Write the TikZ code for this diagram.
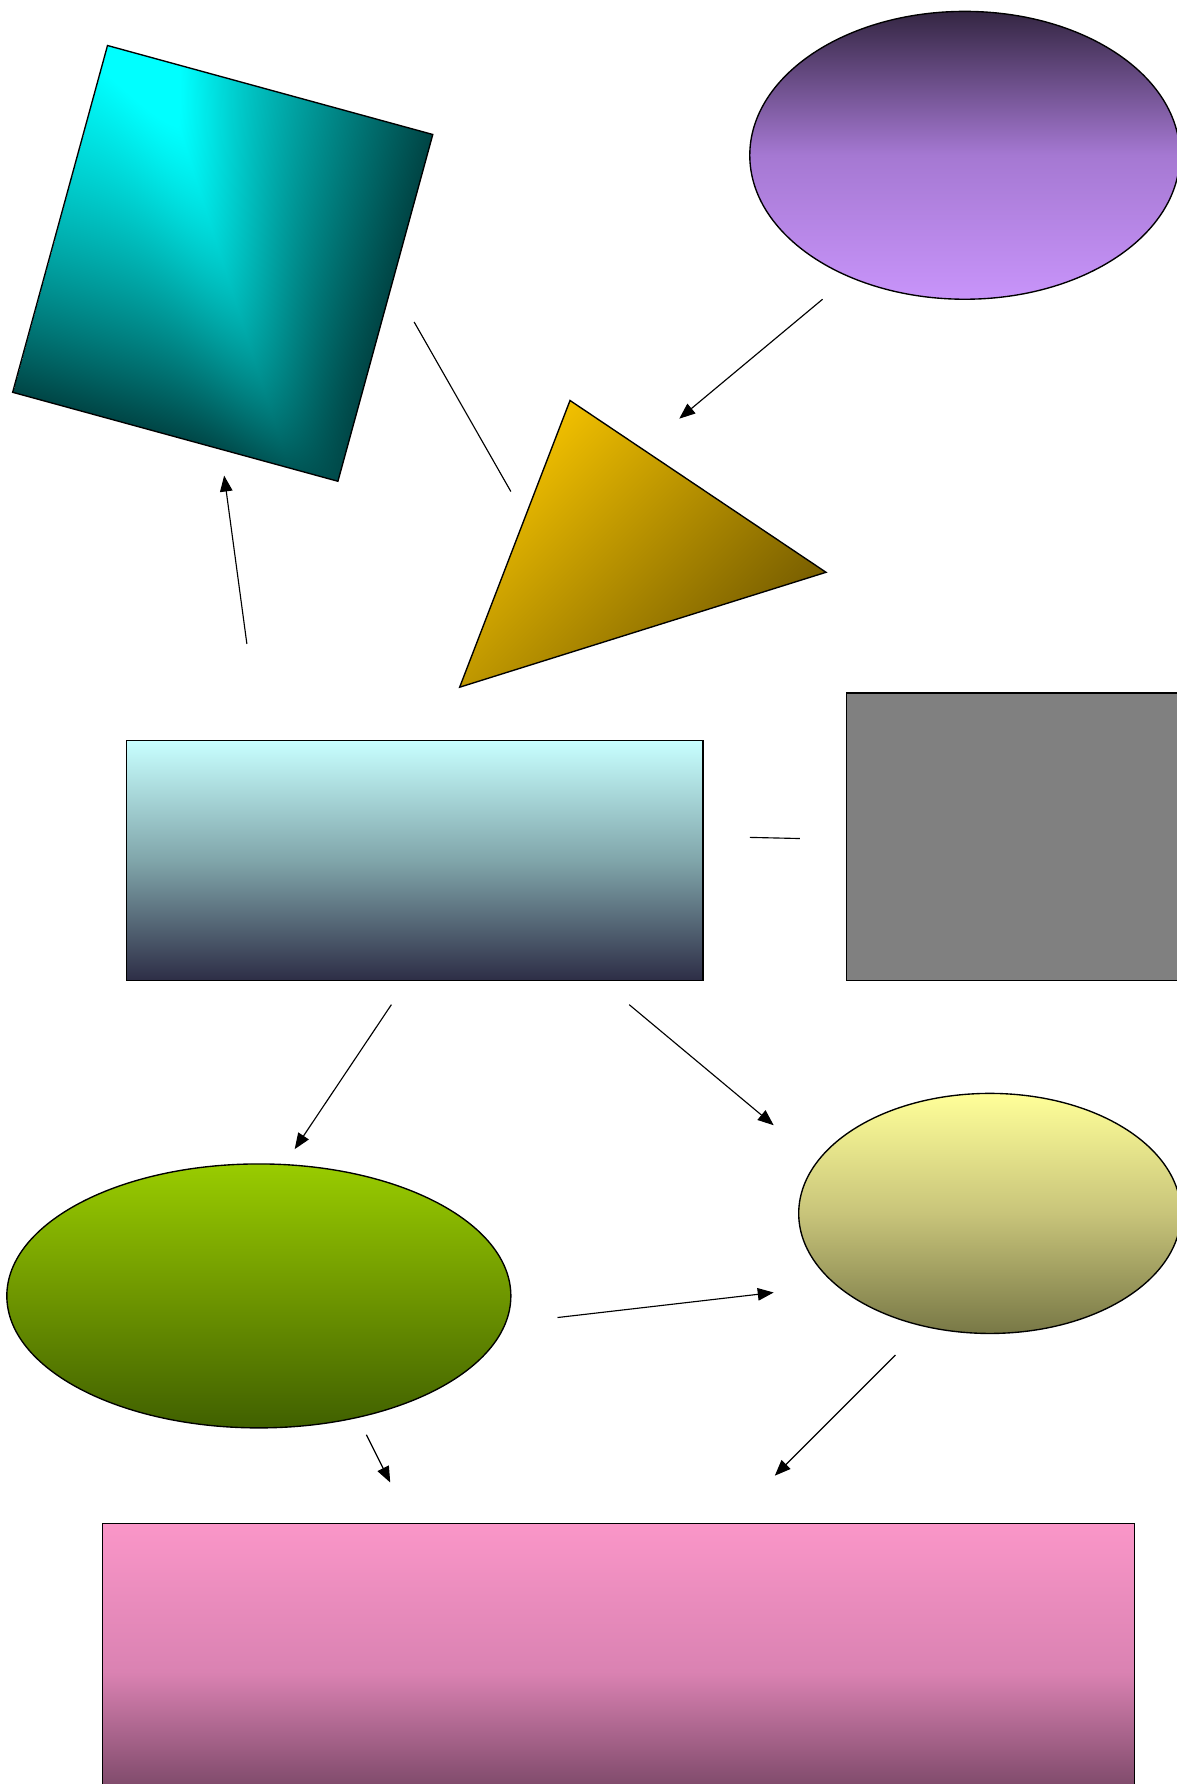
\documentclass[tikz,border=0pt]{standalone}
\usepackage{tikz}
\usetikzlibrary{arrows.meta,shapes.geometric}

\definecolor{purpleTop}{RGB}{52,38,66}
\definecolor{purpleMid}{RGB}{165,120,210}
\definecolor{purpleBot}{RGB}{200,148,250}
\definecolor{cyanTop}{RGB}{200,255,255}
\definecolor{cyanMid}{RGB}{128,165,170}
\definecolor{cyanBot}{RGB}{45,45,70}
\definecolor{greenTop}{RGB}{153,204,0}
\definecolor{greenMid}{RGB}{110,150,0}
\definecolor{greenBot}{RGB}{64,96,0}
\definecolor{yellowTop}{RGB}{255,255,153}
\definecolor{yellowMid}{RGB}{200,196,122}
\definecolor{yellowBot}{RGB}{120,120,70}
\definecolor{pinkTop}{RGB}{250,150,200}
\definecolor{pinkMid}{RGB}{218,130,178}
\definecolor{pinkBot}{RGB}{100,58,86}
\definecolor{goldL}{RGB}{245,195,0}
\definecolor{goldD}{RGB}{115,90,0}
\definecolor{grayBox}{RGB}{128,128,128}

% teal square: bright top left, dark right and bottom, soft ridge
\pgfdeclarefunctionalshading{tealsq}{\pgfpoint{25bp}{25bp}}{\pgfpoint{75bp}{75bp}}{}{
  25 sub 50 div exch 25 sub 50 div exch
  dup 0.7 mul 0.85 exch sub
  1 index dup dup mul 0.5 mul exch 1.5 mul exch sub 0.73 mul 0.27 add
  3 index 2 index sub
  dup abs add 2 div
  1 3 index sub abs 0.02 add div
  1 index 0.25 sub mul sub
  3 index 2 index sub
  0.2 div dup mul neg 2.71828 exch exp 0.07 mul add
  4 1 roll pop pop pop
  0 exch dup
}

\begin{document}
\begin{tikzpicture}[x=0.5pt,y=-0.5pt,
  shp/.style={draw=black, line width=0.6pt, inner sep=0pt},
  con/.style={line width=0.5pt},
  arr/.style={con, -{Triangle[length=7pt,width=5.5pt]}}]
  \useasboundingbox (0,0) rectangle (1034,1568);

  % shapes
  \begin{scope}[transform canvas={shift={(195.75,231.5)},rotate=-15.3}]
    \node[shp, shade, shading=tealsq, minimum width=148.2pt, minimum height=158pt] (sqTeal) at (0,0) {};
  \end{scope}
  \node[shp, ellipse, minimum width=189pt, minimum height=126.5pt,
    top color=purpleTop, bottom color=purpleBot, middle color=purpleMid] (ellPurple) at (848,136.5) {};
  \shadedraw[line width=0.6pt, top color=goldL, bottom color=goldD, shading angle=45]
    (501,352) -- (726,503) -- (404,604) -- cycle;
  \node[shp, minimum width=253.5pt, minimum height=105.5pt,
    top color=cyanTop, bottom color=cyanBot, middle color=cyanMid] (recCyan) at (364.5,756.5) {};
  \node[shp, fill=grayBox, minimum width=158pt, minimum height=126.5pt] (recGray) at (902,735.5) {};
  \node[shp, ellipse, minimum width=221.5pt, minimum height=116pt,
    top color=greenTop, bottom color=greenBot, middle color=greenMid] (ellGreen) at (227.5,1139) {};
  \node[shp, ellipse, minimum width=168pt, minimum height=105.5pt,
    top color=yellowTop, bottom color=yellowBot, middle color=yellowMid] (ellYellow) at (870,1066.5) {};
  \node[shp, minimum width=453.5pt, minimum height=130.5pt,
    top color=pinkTop, bottom color=pinkBot, middle color=pinkMid] (recPink) at (543.5,1469.5) {};

  % connector ends
  \foreach \n/\p in {a1/{217,566}, a2/{197,418}, b1/{364,283}, b2/{449,432},
      c1/{723,263}, c2/{597,368}, d1/{659,736}, d2/{703,737},
      e1/{344,883}, e2/{259,1010}, f1/{553,883}, f2/{680,989},
      g1/{490,1158}, g2/{680,1136}, h1/{322,1261}, h2/{343,1303},
      i1/{787,1191}, i2/{681,1297}}
    \coordinate (\n) at (\p);

  % connectors
  \foreach \s/\t in {a1/a2, c1/c2, e1/e2, f1/f2, g1/g2, h1/h2, i1/i2}
    \draw[arr] (\s) -- (\t);
  \draw[con] (b1) -- (b2);
  \draw[con] (d1) -- (d2);

\end{tikzpicture}
\end{document}
